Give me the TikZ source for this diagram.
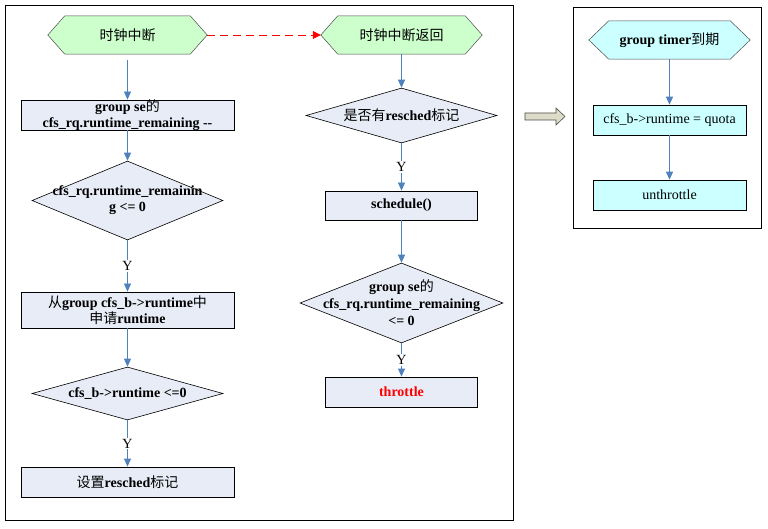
\documentclass[tikz,border=0pt]{standalone}
\usepackage{fontspec}
\setmainfont{Liberation Serif}
\newfontfamily\cjkfam{Noto Sans CJK SC}
\newcommand{\cj}[1]{{\cjkfam\mdseries #1}}
\usetikzlibrary{arrows.meta,shapes.geometric,calc}
\definecolor{hexgreen}{RGB}{204,255,204}
\definecolor{hexcyan}{RGB}{204,255,255}
\definecolor{boxfill}{RGB}{231,236,246}
\definecolor{flowblue}{RGB}{79,129,189}
\definecolor{blockfill}{RGB}{220,220,200}
\tikzset{
  txt/.style={font=\fontsize{14}{16}\selectfont\bfseries, align=center, inner sep=0pt},
  ntxt/.style={font=\fontsize{14}{16}\selectfont, align=center, inner sep=0pt},
  procbox/.style={draw=black, fill=boxfill, line width=0.8pt, minimum width=213pt, minimum height=30pt, inner sep=0pt},
  smallbox/.style={draw=black, fill=boxfill, line width=0.8pt, minimum width=152pt, minimum height=29pt, inner sep=0pt},
  cyanbox/.style={draw=black, fill=hexcyan, line width=0.6pt, minimum width=153pt, minimum height=30pt, inner sep=0pt},
  decision/.style={diamond, draw=black, fill=boxfill, line width=0.6pt, inner sep=0pt, aspect=1},
  hexbox/.style={minimum width=159pt, minimum height=38pt, inner sep=0pt},
  flow/.style={draw=flowblue, line width=0.8pt, -{Triangle[width=7pt,length=8pt]}},
  ylab/.style={fill=white, font=\fontsize{14}{14}\selectfont, inner sep=1pt},
}
\newcommand{\hexagonpath}[3]{%
  \draw[draw=black!70, fill=#2, line width=0.5pt]
    (#1.west) -- ($(#1.north west)+(#3,0)$) -- ($(#1.north east)+(-#3,0)$) --
    (#1.east) -- ($(#1.south east)+(-#3,0)$) -- ($(#1.south west)+(#3,0)$) -- cycle;}
\begin{document}
\begin{tikzpicture}[x=1pt,y=-1pt]
\useasboundingbox (0,0) rectangle (768,529);
\fill[white] (0,0) rectangle (768,529);
% frames
\draw[line width=0.8pt] (5,5) rectangle (513,520);
\draw[line width=0.8pt] (573,7) rectangle (761,228);

% top hexagons
\node[hexbox] (h1) at (127.5,35) {};
\hexagonpath{h1}{hexgreen}{17}
\node[ntxt] (h1t) at (h1) {\cj{时钟中断}};
\node[hexbox, minimum width=161pt] (h2) at (401.5,35) {};
\hexagonpath{h2}{hexgreen}{17}
\node[ntxt] (h2t) at (h2) {\cj{时钟中断返回}};
\draw[red, line width=0.8pt, dash pattern=on 8pt off 5pt, -{Triangle[width=8pt,length=8pt]}] (h1.east) -- (h2.west);

% left column
\node[procbox] (b1) at (127.5,115) {};
\node[txt] (b1t) at (b1) {group se\cj{的}\\cfs\_rq.runtime\_remaining -{}-};
\node[decision, minimum width=191pt, minimum height=79pt] (d1) at (127.5,200.5) {};
\node[txt] (d1t) at (d1) {cfs\_rq.runtime\_remainin\\g <= 0};
\node[procbox, minimum height=36pt] (b2) at (127.5,310) {};
\node[txt] (b2t) at (b2) {\cj{从}group cfs\_b->runtime\cj{中}\\\cj{申请}runtime};
\node[decision, minimum width=191pt, minimum height=53pt] (d2) at (127.5,393.5) {};
\node[txt] (d2t) at (d2) {cfs\_b->runtime <=0};
\node[procbox] (b3) at (127.5,482) {};
\node[txt] (b3t) at (b3) {\cj{设置}resched\cj{标记}};

\draw[flow, shorten <=6pt] (h1.south) -- (b1.north);
\draw[flow] (b1.south) -- (d1.north);
\draw[flow] (d1.south) -- node[ylab] (y1) {Y} (b2.north);
\draw[flow] (b2.south) -- (d2.north);
\draw[flow] (d2.south) -- node[ylab] (y2) {Y} (b3.north);

% right column
\node[decision, minimum width=191pt, minimum height=55pt] (d3) at (401.5,115.5) {};
\node[txt] (d3t) at (d3) {\cj{是否有}resched\cj{标记}};
\node[smallbox] (b4) at (401.5,205.5) {};
\node[txt] (b4t) at (b4) {schedule()};
\node[decision, minimum width=203pt, minimum height=80pt] (d4) at (401.5,303) {};
\node[txt, font=\fontsize{14}{17}\selectfont\bfseries] (d4t) at (d4) {group se\cj{的}\\cfs\_rq.runtime\_remaining\\<= 0};
\node[smallbox, minimum height=30pt] (b5) at (401.5,392) {};
\node[txt, text=red] (b5t) at (b5) {throttle};

\draw[flow] (h2.south) -- (d3.north);
\draw[flow] (d3.south) -- node[ylab] (y3) {Y} (b4.north);
\draw[flow] (b4.south) -- (d4.north);
\draw[flow] (d4.south) -- node[ylab] (y4) {Y} (b5.north);

% block arrow
\draw[fill=blockfill, draw=black!70, line width=0.6pt]
  (525,113) -- (556,113) -- (556,108) -- (565,116.5) -- (556,125) -- (556,120) -- (525,120) -- cycle;

% right panel
\node[hexbox, minimum width=161pt] (h3) at (669.5,40) {};
\hexagonpath{h3}{hexcyan}{20}
\node[txt] (h3t) at (h3) {group timer\cj{到期}};
\node[cyanbox] (b6) at (669.5,120) {};
\node[ntxt] (b6t) at (b6) {cfs\_b->runtime = quota};
\node[cyanbox] (b7) at (669.5,195) {};
\node[ntxt] (b7t) at (b7) {unthrottle};
\draw[flow] (h3.south) -- (b6.north);
\draw[flow] (b6.south) -- (b7.north);
\end{tikzpicture}
\end{document}
